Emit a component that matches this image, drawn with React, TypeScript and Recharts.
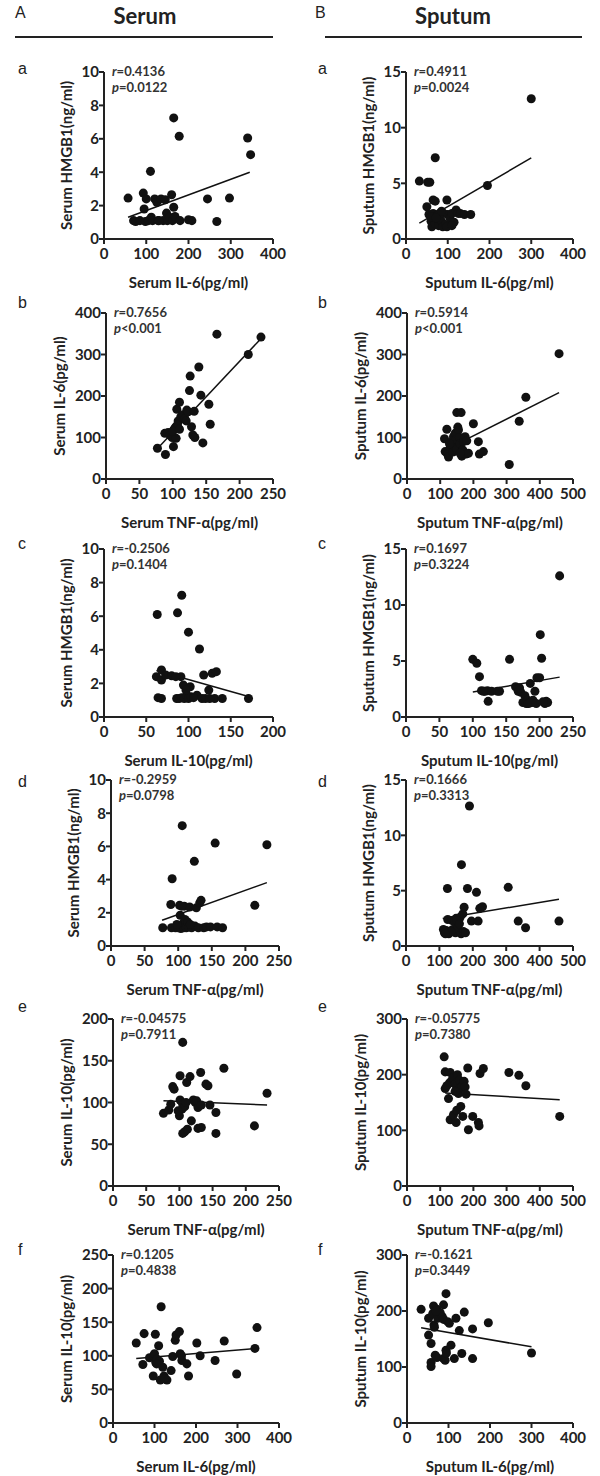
import React from "react";
import { ScatterChart, Scatter, XAxis, YAxis, ReferenceLine, Label } from "recharts";

// each pair is [x, y]
const serumIl6Hmgb1 = [
  [57, 2.45], [70, 1.1], [75, 1.05], [85, 1.1], [93, 2.75], [95, 1.8], [98, 1.05], [100, 2.4], [105, 1.1],
  [110, 4.05], [112, 1.3], [115, 1.1], [120, 2.4], [125, 2.2], [128, 1.1], [135, 2.4], [140, 1.1], [145, 2.35],
  [148, 1.55], [150, 1.1], [155, 1.3], [160, 2.65], [162, 1.1], [165, 1.9], [165, 7.25], [168, 1.35], [178, 6.15],
  [180, 1.1], [200, 1.15], [208, 1.1], [245, 2.4], [267, 1.05], [297, 2.45], [340, 6.05], [347, 5.05], [130, 1.1],
];
const sputumIl6Hmgb1 = [
  [32, 5.2], [52, 5.1], [57, 5.1], [70, 7.3], [300, 12.6], [195, 4.8], [50, 2.9], [65, 3.5], [70, 3.4], [98, 3.5],
  [55, 2.2], [60, 1.6], [62, 1.1], [65, 2.3], [70, 1.4], [75, 2.1], [78, 1.2], [80, 2.3], [85, 1.6], [88, 1.1],
  [90, 2.3], [95, 1.3], [98, 1.1], [100, 2.2], [105, 1.9], [110, 2.3], [115, 1.5], [120, 2.6], [125, 2.3],
  [130, 2.3], [140, 2.2], [155, 2.2], [60, 2.0], [85, 2.5], [72, 1.9], [110, 1.2],
];
const serumTnfIl6 = [
  [77, 74], [89, 59], [88, 110], [93, 112], [96, 105], [99, 100], [101, 78], [102, 120], [104, 125], [105, 98],
  [106, 168], [108, 140], [110, 185], [112, 150], [115, 155], [118, 145], [121, 166], [123, 162], [125, 213],
  [126, 248], [128, 126], [130, 106], [132, 163], [133, 100], [139, 270], [142, 202], [145, 87], [154, 180],
  [156, 132], [166, 349], [213, 300], [232, 342], [107, 130], [100, 115], [120, 140], [110, 120],
];
const sputumTnfIl6 = [
  [113, 97], [115, 66], [120, 120], [122, 60], [125, 53], [130, 75], [135, 90], [138, 65], [140, 102], [142, 80],
  [145, 110], [148, 95], [150, 160], [150, 72], [153, 125], [155, 118], [158, 100], [160, 85], [163, 160],
  [165, 55], [168, 70], [170, 90], [175, 102], [178, 60], [180, 92], [185, 62], [200, 133], [215, 90], [218, 60],
  [230, 66], [308, 35], [338, 139], [358, 197], [458, 302], [128, 85], [160, 62],
];
const serumIl10Hmgb1 = [
  [63, 6.1], [87, 6.2], [92, 7.25], [100, 5.05], [113, 4.05], [62, 2.4], [68, 2.8], [68, 2.2], [73, 2.5],
  [80, 2.45], [91, 2.4], [118, 2.5], [128, 2.6], [133, 2.7], [124, 1.6], [94, 1.9], [102, 1.8], [64, 1.15],
  [68, 1.1], [86, 1.1], [89, 1.1], [92, 1.15], [95, 1.1], [98, 1.3], [100, 1.1], [103, 1.2], [110, 1.3],
  [116, 1.1], [120, 1.1], [131, 1.1], [140, 1.1], [171, 1.1], [97, 1.6], [106, 1.15], [85, 2.4], [125, 1.1],
];
const sputumIl10Hmgb1 = [
  [100, 5.15], [106, 4.8], [110, 3.6], [113, 2.35], [118, 2.3], [122, 2.35], [123, 1.4], [128, 2.3], [137, 2.3],
  [140, 2.3], [155, 5.15], [164, 2.7], [168, 2.3], [172, 2.2], [175, 1.3], [178, 1.9], [180, 1.2], [182, 1.5],
  [183, 1.2], [186, 3.0], [188, 1.3], [190, 1.5], [193, 2.3], [196, 3.5], [200, 3.5], [201, 7.35], [203, 5.25],
  [208, 1.2], [210, 1.4], [212, 1.3], [230, 12.6], [116, 2.3], [170, 2.6], [185, 1.25], [195, 1.2], [205, 1.35],
];
const serumTnfHmgb1 = [
  [77, 1.1], [89, 2.5], [90, 1.1], [91, 4.05], [96, 1.1], [100, 1.1], [102, 2.45], [103, 1.85], [104, 1.05],
  [106, 7.25], [107, 1.35], [108, 1.1], [109, 2.4], [110, 1.6], [112, 1.1], [114, 1.45], [116, 1.15], [117, 2.35],
  [120, 1.1], [124, 5.1], [125, 1.2], [127, 2.3], [130, 1.1], [132, 2.6], [134, 2.75], [138, 1.1], [142, 1.15],
  [148, 1.15], [155, 6.2], [158, 1.15], [166, 1.1], [214, 2.45], [232, 6.1], [98, 1.3], [118, 1.3], [105, 2.4],
];
const sputumTnfHmgb1 = [
  [112, 1.5], [115, 1.2], [120, 1.4], [124, 5.2], [125, 2.4], [128, 1.1], [132, 1.3], [138, 2.3], [140, 1.5],
  [145, 2.2], [148, 1.2], [150, 2.5], [155, 1.6], [158, 2.3], [162, 2.6], [165, 1.1], [166, 7.35], [170, 2.9],
  [172, 1.3], [174, 3.5], [178, 1.2], [184, 5.2], [190, 12.65], [196, 2.25], [211, 4.85], [216, 2.25], [221, 3.4],
  [229, 3.55], [306, 5.3], [336, 2.25], [358, 1.65], [458, 2.25], [152, 2.3], [135, 1.3], [160, 2.0], [118, 1.1],
];
const serumTnfIl10 = [
  [76, 87], [84, 91], [87, 98], [90, 119], [92, 116], [100, 84], [101, 132], [101, 103], [104, 92], [105, 172],
  [105, 98], [105, 63], [108, 65], [108, 95], [111, 124], [116, 131], [118, 78], [121, 103], [124, 100], [126, 102],
  [128, 94], [128, 69], [132, 136], [133, 97], [133, 70], [140, 122], [143, 120], [146, 97], [155, 88], [155, 63],
  [167, 141], [213, 72], [232, 111], [98, 90], [112, 68], [110, 100],
];
const sputumTnfIl10 = [
  [112, 232], [115, 205], [115, 175], [125, 157], [128, 185], [130, 204], [130, 119], [135, 190], [140, 195],
  [140, 128], [145, 183], [148, 114], [150, 136], [152, 200], [155, 166], [158, 190], [160, 176], [162, 143],
  [165, 178], [168, 125], [172, 188], [175, 178], [183, 212], [185, 101], [198, 125], [215, 114], [217, 108],
  [220, 202], [230, 211], [307, 204], [337, 199], [358, 180], [460, 125], [120, 180], [145, 170], [178, 165],
];
const serumIl6Il10 = [
  [56, 119], [72, 87], [75, 133], [88, 97], [97, 70], [98, 100], [100, 103], [102, 132], [103, 90], [106, 95],
  [110, 115], [112, 92], [114, 64], [116, 173], [120, 83], [123, 70], [130, 64], [140, 78], [144, 99], [150, 123],
  [152, 131], [160, 136], [162, 103], [166, 93], [178, 88], [182, 70], [202, 119], [210, 100], [246, 93],
  [268, 122], [298, 73], [342, 111], [347, 142], [105, 88], [125, 66], [165, 100],
];
const sputumIl6Il10 = [
  [34, 203], [52, 187], [52, 157], [58, 142], [58, 108], [58, 101], [62, 195], [64, 209], [65, 175], [66, 171],
  [68, 121], [72, 203], [72, 117], [74, 187], [80, 197], [85, 190], [88, 211], [88, 185], [88, 115], [92, 112],
  [94, 231], [94, 130], [98, 181], [102, 178], [106, 139], [114, 115], [118, 187], [126, 165], [132, 124],
  [138, 198], [158, 168], [158, 115], [196, 179], [300, 125], [70, 200], [95, 125],
];

// fitted line end points [[x1, y1], [x2, y2]]
const fitSerumIl6Hmgb1 = [[57, 1.3], [345, 4.0]];
const fitSputumIl6Hmgb1 = [[32, 1.43], [300, 7.28]];
const fitSerumTnfIl6 = [[75, 70], [233, 340]];
const fitSputumTnfIl6 = [[113, 69], [458, 208]];
const fitSerumIl10Hmgb1 = [[62, 2.77], [170, 1.23]];
const fitSputumIl10Hmgb1 = [[100, 2.23], [230, 3.56]];
const fitSerumTnfHmgb1 = [[76, 1.55], [232, 3.82]];
const fitSputumTnfHmgb1 = [[110, 2.48], [458, 4.23]];
const fitSerumTnfIl10 = [[76, 102], [232, 97]];
const fitSputumTnfIl10 = [[115, 167], [460, 155]];
const fitSerumIl6Il10 = [[56, 96], [347, 111]];
const fitSputumIl6Il10 = [[34, 170], [300, 136]];

// tick labels
const ticks0to400 = [0, 100, 200, 300, 400];
const ticks0to500 = [0, 100, 200, 300, 400, 500];
const ticks0to250 = [0, 50, 100, 150, 200, 250];
const ticks0to200 = [0, 50, 100, 150, 200];
const ticks0to10 = [0, 2, 4, 6, 8, 10];
const ticks0to15 = [0, 5, 10, 15];
const ticks0to300 = [0, 100, 200, 300];

const FONT = "Lato, 'Open Sans', sans-serif";
const INK = "#222";

const rows = [
  { letter: "a", letterY: 70, top: 72, bottom: 239, lx: [104, 273], rx: [406, 573] },
  { letter: "b", letterY: 304, top: 313, bottom: 479, lx: [106, 273], rx: [407, 573] },
  { letter: "c", letterY: 545, top: 549, bottom: 717, lx: [104, 273], rx: [406, 573] },
  { letter: "d", letterY: 783, top: 780, bottom: 946, lx: [111, 279], rx: [406, 573] },
  { letter: "e", letterY: 1008, top: 1019, bottom: 1186, lx: [113, 279], rx: [407, 573] },
  { letter: "f", letterY: 1251, top: 1255, bottom: 1423, lx: [113, 279], rx: [407, 573] },
];

const panels = [
  { row: 0, side: "l", points: serumIl6Hmgb1, fit: fitSerumIl6Hmgb1, xTicks: ticks0to400, yTicks: ticks0to10, xLabel: "Serum IL-6(pg/ml)", yLabel: "Serum HMGB1(ng/ml)", r: "0.4136", p: "=0.0122" },
  { row: 0, side: "r", points: sputumIl6Hmgb1, fit: fitSputumIl6Hmgb1, xTicks: ticks0to400, yTicks: ticks0to15, xLabel: "Sputum IL-6(pg/ml)", yLabel: "Sputum HMGB1(ng/ml)", r: "0.4911", p: "=0.0024" },
  { row: 1, side: "l", points: serumTnfIl6, fit: fitSerumTnfIl6, xTicks: ticks0to250, yTicks: ticks0to400, xLabel: "Serum TNF-α(pg/ml)", yLabel: "Serum IL-6(pg/ml)", r: "0.7656", p: "<0.001" },
  { row: 1, side: "r", points: sputumTnfIl6, fit: fitSputumTnfIl6, xTicks: ticks0to500, yTicks: ticks0to400, xLabel: "Sputum TNF-α(pg/ml)", yLabel: "Sputum IL-6(pg/ml)", r: "0.5914", p: "<0.001" },
  { row: 2, side: "l", points: serumIl10Hmgb1, fit: fitSerumIl10Hmgb1, xTicks: ticks0to200, yTicks: ticks0to10, xLabel: "Serum IL-10(pg/ml)", yLabel: "Serum HMGB1(ng/ml)", r: "-0.2506", p: "=0.1404" },
  { row: 2, side: "r", points: sputumIl10Hmgb1, fit: fitSputumIl10Hmgb1, xTicks: ticks0to250, yTicks: ticks0to15, xLabel: "Sputum IL-10(pg/ml)", yLabel: "Sputum HMGB1(ng/ml)", r: "0.1697", p: "=0.3224" },
  { row: 3, side: "l", points: serumTnfHmgb1, fit: fitSerumTnfHmgb1, xTicks: ticks0to250, yTicks: ticks0to10, xLabel: "Serum TNF-α(pg/ml)", yLabel: "Serum HMGB1(ng/ml)", r: "-0.2959", p: "=0.0798" },
  { row: 3, side: "r", points: sputumTnfHmgb1, fit: fitSputumTnfHmgb1, xTicks: ticks0to500, yTicks: ticks0to15, xLabel: "Sputum TNF-α(pg/ml)", yLabel: "Sputum HMGB1(ng/ml)", r: "0.1666", p: "=0.3313" },
  { row: 4, side: "l", points: serumTnfIl10, fit: fitSerumTnfIl10, xTicks: ticks0to250, yTicks: ticks0to200, xLabel: "Serum TNF-α(pg/ml)", yLabel: "Serum IL-10(pg/ml)", r: "-0.04575", p: "=0.7911" },
  { row: 4, side: "r", points: sputumTnfIl10, fit: fitSputumTnfIl10, xTicks: ticks0to500, yTicks: ticks0to300, xLabel: "Sputum TNF-α(pg/ml)", yLabel: "Sputum IL-10(pg/ml)", r: "-0.05775", p: "=0.7380" },
  { row: 5, side: "l", points: serumIl6Il10, fit: fitSerumIl6Il10, xTicks: ticks0to400, yTicks: [0, 50, 100, 150, 200, 250], xLabel: "Serum IL-6(pg/ml)", yLabel: "Serum IL-10(pg/ml)", r: "0.1205", p: "=0.4838" },
  { row: 5, side: "r", points: sputumIl6Il10, fit: fitSputumIl6Il10, xTicks: ticks0to400, yTicks: ticks0to300, xLabel: "Sputum IL-6(pg/ml)", yLabel: "Sputum IL-10(pg/ml)", r: "-0.1621", p: "=0.3449" },
];

const PAD_L = 100;
const PAD_T = 10;
const PAD_R = 15;
const PAD_B = 52;

const tickStyle = { fill: INK, fontSize: 15, fontFamily: FONT, fontWeight: 700 };
const axisLine = { stroke: INK, strokeWidth: 2 };

function Panel({ cfg }: { cfg: any }) {
  const row = rows[cfg.row];
  const [x0, x1] = cfg.side === "l" ? row.lx : row.rx;
  const w = x1 - x0;
  const h = row.bottom - row.top;
  const data = cfg.points.map(([x, y]: number[]) => ({ x, y }));
  const xMax = cfg.xTicks[cfg.xTicks.length - 1];
  const yMax = cfg.yTicks[cfg.yTicks.length - 1];
  const [[fx1, fy1], [fx2, fy2]] = cfg.fit;
  // title sits further out when the tick labels have three digits
  const yAxisW = String(yMax).length >= 3 ? 92 : 74;

  return (
    <div style={{ position: "absolute", left: x0 - PAD_L, top: row.top - PAD_T }}>
      <ScatterChart
        width={w + PAD_L + PAD_R}
        height={h + PAD_T + PAD_B}
        margin={{ top: PAD_T, right: PAD_R, left: PAD_L - yAxisW, bottom: 0 }}
      >
        <XAxis
          type="number"
          dataKey="x"
          domain={[0, xMax]}
          ticks={cfg.xTicks}
          interval={0}
          height={PAD_B}
          axisLine={axisLine}
          tickLine={axisLine}
          tickSize={5}
          tickMargin={4}
          tick={tickStyle}
        >
          <Label value={cfg.xLabel} position="insideBottom" offset={3} fill={INK} fontSize={15} fontFamily={FONT} fontWeight={700} />
        </XAxis>
        <YAxis
          type="number"
          dataKey="y"
          domain={[0, yMax]}
          ticks={cfg.yTicks}
          interval={0}
          width={yAxisW}
          axisLine={axisLine}
          tickLine={axisLine}
          tickSize={5}
          tickMargin={0}
          tick={tickStyle}
        >
          <Label value={cfg.yLabel} angle={-90} position="center" fill={INK} fontSize={15} fontFamily={FONT} fontWeight={700} />
        </YAxis>
        <ReferenceLine
          segment={[{ x: fx1, y: fy1 }, { x: fx2, y: fy2 }]}
          stroke="#111"
          strokeWidth={1.5}
        />
        <Scatter data={data} fill="#111" isAnimationActive={false} />
      </ScatterChart>
      <div
        style={{
          position: "absolute",
          left: PAD_L + 8,
          top: PAD_T - 9,
          fontFamily: FONT,
          fontWeight: 700,
          fontSize: 13,
          lineHeight: "16px",
          color: "#333",
          whiteSpace: "nowrap",
        }}
      >
        <div><i>r</i>={cfg.r}</div>
        <div><i>p</i>{cfg.p}</div>
      </div>
    </div>
  );
}

const letterStyle = {
  position: "absolute" as const,
  fontFamily: "'Liberation Sans', Arial, sans-serif",
  fontSize: 16,
  color: INK,
  lineHeight: "18px",
};

export default function App() {
  return (
    <div style={{ position: "absolute", left: 0, top: 0, width: 600, height: 1476, background: "#fff", overflow: "hidden" }}>
      <div style={{ ...letterStyle, left: 15, top: 4 }}>A</div>
      <div style={{ ...letterStyle, left: 315, top: 4 }}>B</div>
      <div style={{ position: "absolute", left: 45, top: 2, width: 200, textAlign: "center", fontFamily: FONT, fontWeight: 700, fontSize: 22, color: INK }}>Serum</div>
      <div style={{ position: "absolute", left: 353, top: 2, width: 200, textAlign: "center", fontFamily: FONT, fontWeight: 700, fontSize: 22, color: INK }}>Sputum</div>
      <div style={{ position: "absolute", left: 15, top: 36, width: 258, height: 2, background: INK }} />
      <div style={{ position: "absolute", left: 325, top: 36, width: 257, height: 2, background: INK }} />
      {rows.map((r) => (
        <React.Fragment key={r.letter}>
          <div style={{ ...letterStyle, left: 18, top: r.letterY - 10 }}>{r.letter}</div>
          <div style={{ ...letterStyle, left: 318, top: r.letterY - 10 }}>{r.letter}</div>
        </React.Fragment>
      ))}
      {panels.map((p, i) => (
        <Panel key={i} cfg={p} />
      ))}
    </div>
  );
}
